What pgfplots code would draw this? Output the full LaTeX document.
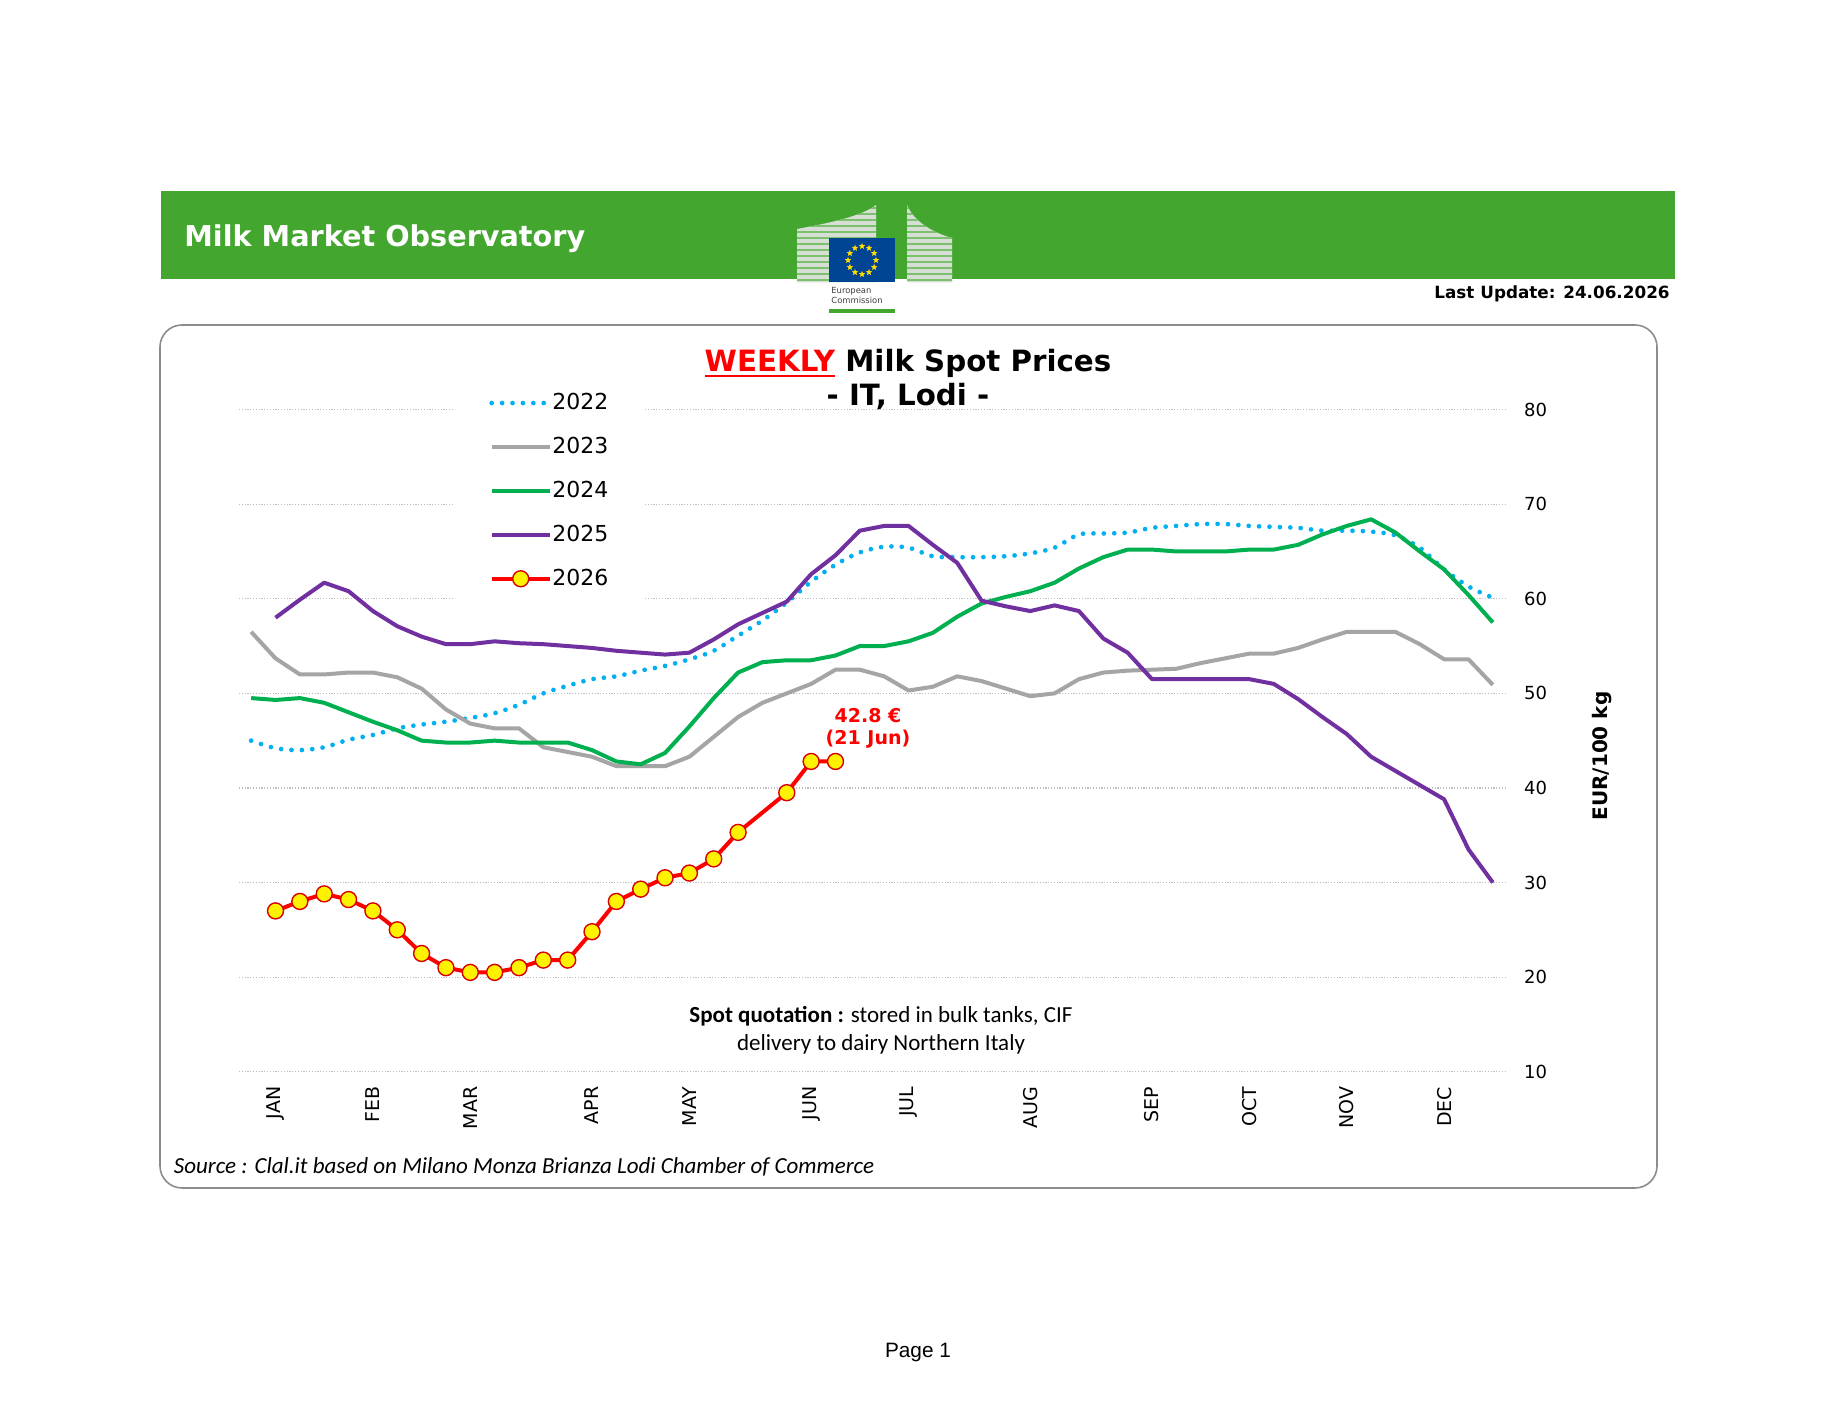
\documentclass[border=0pt]{standalone}
\usepackage{pgfplots}
\pgfplotsset{compat=1.18}
\usepackage{pgfplotstable}
\usepackage{fontspec}
\setmainfont{DejaVu Sans}
\newfontfamily\calibri{Carlito}
\newfontfamily\arialf{Liberation Sans}
\usetikzlibrary{shapes.geometric}

\definecolor{hdrgreen}{RGB}{67,166,46}
\definecolor{c22}{RGB}{0,176,240}
\definecolor{c23}{RGB}{165,165,165}
\definecolor{c24}{RGB}{0,176,80}
\definecolor{c25}{RGB}{112,48,160}
\definecolor{c26}{RGB}{255,0,0}
\definecolor{eublue}{RGB}{0,68,148}
\definecolor{euyellow}{RGB}{255,221,0}
\definecolor{bldg}{RGB}{215,222,212}

\newcommand\thickul[1]{\setbox0\hbox{#1}\rlap{\raisebox{-3pt}{\rule{\wd0}{1.4pt}}}\box0}

\pgfplotstableread{
x y
0 45.0
1 44.2
2 44.0
3 44.3
4 45.1
5 45.6
6 46.3
7 46.7
8 47.0
9 47.4
10 47.9
11 48.8
12 50.0
13 50.8
14 51.5
15 51.8
16 52.4
17 52.9
18 53.6
19 54.5
20 56.1
21 57.7
22 59.6
23 61.8
24 63.6
25 64.9
26 65.5
27 65.4
28 64.5
29 64.4
30 64.4
31 64.5
32 64.8
33 65.4
34 66.8
35 66.9
36 67.0
37 67.5
38 67.7
39 67.9
40 67.9
41 67.7
42 67.6
43 67.5
44 67.2
45 67.2
46 67.1
47 66.7
48 65.4
49 63.1
50 61.3
51 60.1
}\dA

\pgfplotstableread{
x y
0 56.5
1 53.7
2 52.0
3 52.0
4 52.2
5 52.2
6 51.7
7 50.5
8 48.3
9 46.8
10 46.3
11 46.3
12 44.3
13 43.8
14 43.3
15 42.3
16 42.3
17 42.3
18 43.3
19 45.4
20 47.5
21 49.0
22 50.0
23 51.0
24 52.5
25 52.5
26 51.8
27 50.3
28 50.7
29 51.8
30 51.3
31 50.5
32 49.7
33 50.0
34 51.5
35 52.2
36 52.4
37 52.5
38 52.6
39 53.2
40 53.7
41 54.2
42 54.2
43 54.8
44 55.7
45 56.5
46 56.5
47 56.5
48 55.2
49 53.6
50 53.6
51 50.9
}\dB

\pgfplotstableread{
x y
0 49.5
1 49.3
2 49.5
3 49.0
4 48.0
5 47.0
6 46.1
7 45.0
8 44.8
9 44.8
10 45.0
11 44.8
12 44.8
13 44.8
14 44.0
15 42.8
16 42.5
17 43.7
18 46.5
19 49.5
20 52.2
21 53.3
22 53.5
23 53.5
24 54.0
25 55.0
26 55.0
27 55.5
28 56.4
29 58.1
30 59.5
31 60.2
32 60.8
33 61.7
34 63.2
35 64.4
36 65.2
37 65.2
38 65.0
39 65.0
40 65.0
41 65.2
42 65.2
43 65.7
44 66.8
45 67.7
46 68.4
47 67.0
48 65.0
49 63.1
50 60.4
51 57.5
}\dC

\pgfplotstableread{
x y
1 58.0
2 59.9
3 61.7
4 60.8
5 58.7
6 57.1
7 56.0
8 55.2
9 55.2
10 55.5
11 55.3
12 55.2
13 55.0
14 54.8
15 54.5
16 54.3
17 54.1
18 54.3
19 55.7
20 57.3
21 58.5
22 59.7
23 62.6
24 64.6
25 67.2
26 67.7
27 67.7
28 65.7
29 63.8
30 59.8
31 59.2
32 58.7
33 59.3
34 58.7
35 55.8
36 54.3
37 51.5
38 51.5
39 51.5
40 51.5
41 51.5
42 51.0
43 49.4
44 47.5
45 45.7
46 43.3
47 41.8
48 40.3
49 38.8
50 33.5
51 30.0
}\dD

\pgfplotstableread{
x y
1 27.0
2 28.0
3 28.8
4 28.2
5 27.0
6 25.0
7 22.5
8 21.0
9 20.5
10 20.5
11 21.0
12 21.8
13 21.8
14 24.8
15 28.0
16 29.3
17 30.5
18 31.0
19 32.5
20 35.3
22 39.5
23 42.8
24 42.8
}\dE

\begin{document}
\begin{tikzpicture}
\path[use as bounding box] (0,0) rectangle (917pt,708.5pt);
\fill[white] (0,0) rectangle (917pt,708.5pt);
\begin{scope}[shift={(0pt,708.5pt)}, x=0.5pt, y=-0.5pt]
  % header bar
  \fill[hdrgreen] (160.6,191) rectangle (1675,279);
  % EU logo (building)
  \begin{scope}
    \clip (797,282.5) -- (797,229) .. controls (830,223) and (862,216) .. (876,205) -- (876,282.5) -- cycle;
    \fill[bldg] (790,200) rectangle (880,285);
    \foreach \yy in {208,214,...,284} \draw[hdrgreen!70!white, line width=0.9pt] (790,\yy) -- (880,\yy);
  \end{scope}
  \begin{scope}
    \clip (907,205) .. controls (914,222) and (934,233) .. (952,238) -- (952,282.5) -- (907,282.5) -- cycle;
    \fill[bldg] (900,200) rectangle (960,285);
    \foreach \yy in {208,214,...,284} \draw[hdrgreen!70!white, line width=0.9pt] (900,\yy) -- (960,\yy);
  \end{scope}
  \fill[eublue] (828.6,238) rectangle (895.4,282.5);
  \foreach \a in {0,30,...,330}
    \node[star, star points=5, star point ratio=2.3, fill=euyellow, inner sep=0pt, minimum size=3.4pt] at ({862+14*cos(\a)},{260.25+14*sin(\a)}) {};
  \node[anchor=base west, inner sep=0pt, font=\fontsize{4.2}{5}\selectfont, text=black!75] at (831,294) {European};
  \node[anchor=base west, inner sep=0pt, font=\fontsize{4.2}{5}\selectfont, text=black!75] at (831,303.5) {Commission};
  \fill[hdrgreen] (828.6,309.5) rectangle (895.4,313);
  % header texts
  \node[anchor=base west, text=white, inner sep=0pt, font=\bfseries\fontsize{14.35}{16}\selectfont] at (184,247) {Milk Market Observatory};
  \node[anchor=base east, inner sep=0pt, font=\bfseries\fontsize{8.4}{10}\selectfont] at (1670,299) {Last Update: 24.06.2026};
  % rounded frame
  \draw[black!45, line width=0.8pt, rounded corners=11pt] (160,325) rectangle (1657,1188);
\end{scope}

\begin{axis}[
  at={(119.5pt,172.65pt)}, anchor=south west,
  scale only axis, width=633pt, height=331.05pt,
  xmin=-0.5, xmax=51.5, ymin=10, ymax=80,
  axis line style={draw=none},
  major tick length=0pt,
  ytick={10,20,...,80},
  yticklabel pos=right,
  yticklabel style={font=\fontsize{9}{10}\selectfont, anchor=west},
  yticklabel shift=6pt,
  xtick={1,5,9,14,18,23,27,32,37,41,45,49},
  xticklabels={JAN,FEB,MAR,APR,MAY,JUN,JUL,AUG,SEP,OCT,NOV,DEC},
  xticklabel style={font=\fontsize{9.5}{10}\selectfont, rotate=90, anchor=east},
  xticklabel shift=4pt,
  ymajorgrids,
  grid style={color=black!25, line width=0.6pt, dash pattern=on 0.6pt off 0.8pt},
  /pgf/number format/assume math mode=true,
  clip=false,
  legend image code/.code={\draw[mark repeat=2,mark phase=2,#1] plot coordinates {(0pt,0pt) (14.5pt,0pt) (29pt,0pt)};},
  legend cell align=left,
  legend style={at={(axis description cs:0.1706,1.0432)}, anchor=north west,
    draw=none, fill=white, font=\fontsize{11}{13}\selectfont,
    nodes={inner xsep=0.2pt},
    inner xsep=17pt, inner ysep=4pt, row sep=8.3pt},
]
\addplot[c22, line width=2.35pt, line cap=round, dash pattern=on 0pt off 5.2pt, smooth, tension=0.5] table[x=x,y=y] {\dA};
\addlegendentry{2022}
\addplot[c23, line width=2pt, line join=round] table[x=x,y=y] {\dB};
\addlegendentry{2023}
\addplot[c24, line width=2pt, line join=round] table[x=x,y=y] {\dC};
\addlegendentry{2024}
\addplot[c25, line width=2pt, line join=round] table[x=x,y=y] {\dD};
\addlegendentry{2025}
\addplot[c26, line width=2pt, line join=round, mark=*, mark size=4pt, mark options={fill=yellow, draw=c26!85!black, line width=0.7pt, solid}] table[x=x,y=y] {\dE};
\addlegendentry{2026}
\end{axis}

\begin{scope}[shift={(0pt,708.5pt)}, x=0.5pt, y=-0.5pt]
  \node[anchor=base, inner sep=0pt, font=\bfseries\fontsize{14.65}{16}\selectfont] at (908,371.5) {\textcolor{c26}{\thickul{WEEKLY}} Milk Spot Prices};
  \node[anchor=base, inner sep=0pt, font=\bfseries\fontsize{14.65}{16}\selectfont] at (908,405.5) {- IT, Lodi -};
  \node[anchor=base, inner sep=0pt, text=c26, font=\bfseries\fontsize{9.5}{11}\selectfont] at (868,723) {42.8 €};
  \node[anchor=base, inner sep=0pt, text=c26, font=\bfseries\fontsize{9.5}{11}\selectfont] at (868,745) {(21 Jun)};
  \node[anchor=base, inner sep=0pt, font=\calibri\fontsize{11.5}{14}\selectfont] at (881,1023) {\textbf{Spot quotation :} stored in bulk tanks, CIF};
  \node[anchor=base, inner sep=0pt, font=\calibri\fontsize{11.5}{14}\selectfont] at (881,1051) {delivery to dairy Northern Italy};
  \node[anchor=base west, inner sep=0pt, font=\calibri\itshape\fontsize{11.5}{14}\selectfont] at (173.5,1174) {Source : Clal.it based on Milano Monza Brianza Lodi Chamber of Commerce};
  \node[rotate=90, inner sep=0pt, font=\bfseries\fontsize{10}{12}\selectfont] at (1602,756) {EUR/100 kg};
  \node[anchor=base, inner sep=0pt, font=\arialf\fontsize{10.4}{12}\selectfont] at (918,1358) {Page 1};
\end{scope}
\end{tikzpicture}
\end{document}
